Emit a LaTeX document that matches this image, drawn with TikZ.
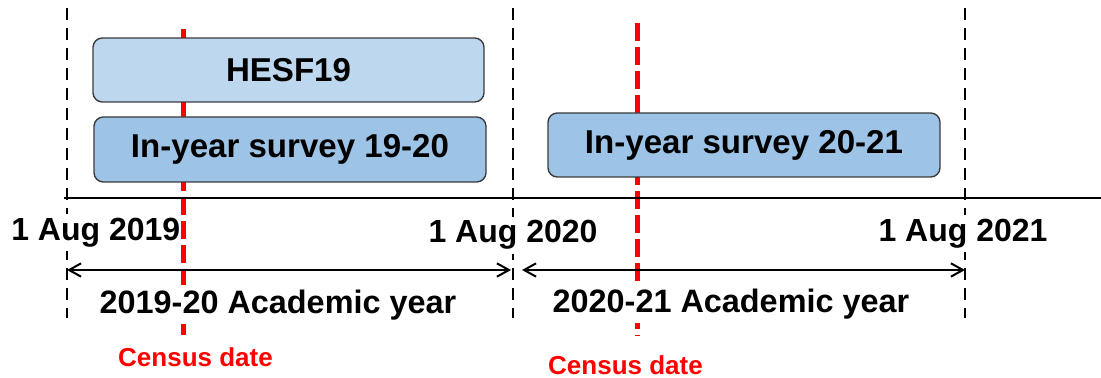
\documentclass[tikz,border=0pt]{standalone}
\usepackage{fontspec}
\setmainfont{Liberation Sans}
\usetikzlibrary{arrows.meta}
\definecolor{boxlight}{HTML}{BDD7EE}
\definecolor{boxmid}{HTML}{9DC3E6}
\definecolor{boxline}{HTML}{3A3A3A}
\begin{document}
\begin{tikzpicture}[x=0.75pt,y=-0.75pt,
  guide/.style={draw=black,line width=1.6pt,dash pattern=on 9pt off 6pt},
  censusline/.style={draw=red,line width=3.75pt,dash pattern=on 13.5pt off 4.5pt},
  surveybox/.style={draw=boxline,line width=1pt,rounded corners=7pt,inner sep=0pt,outer sep=0pt,
    minimum width=392*0.75pt,minimum height=64*0.75pt,font=\fontsize{24.8}{28}\selectfont\bfseries},
  datelabel/.style={fill=white,inner sep=3pt,font=\fontsize{24}{28}\selectfont\bfseries},
  yearlabel/.style={fill=white,inner xsep=0pt,inner ysep=3.5pt,font=\fontsize{24.3}{28}\selectfont\bfseries},
  censuslabel/.style={inner sep=0pt,text=red,font=\fontsize{19.5}{23}\selectfont\bfseries},
  span/.style={draw=black,line width=1.5pt,{Straight Barb[length=9pt,width=10pt,line width=1.5pt]}-{Straight Barb[length=9pt,width=10pt,line width=1.5pt]}},
  axis/.style={draw=black,line width=1.6pt}]
\useasboundingbox (0,0) rectangle (1101,378);
% guide coordinates
\coordinate (g1t) at (67,8);   \coordinate (g1b) at (67,318);
\coordinate (g2t) at (513,8);  \coordinate (g2b) at (513,318);
\coordinate (g3t) at (965,8);  \coordinate (g3b) at (965,318);
\draw[guide] (g1t) -- (g1b);
\draw[guide] (g2t) -- (g2b);
\draw[guide] (g3t) -- (g3b);
% date labels
\node[datelabel,anchor=base west] (d19) at (7,240) {1 Aug 2019};
\node[datelabel,anchor=base] (d20) at (513,243) {1 Aug 2020};
\node[datelabel,anchor=base] (d21) at (963,241) {1 Aug 2021};
% census lines
\coordinate (c1t) at (183,29);  \coordinate (c1b) at (183,338);
\coordinate (c2t) at (637,23);  \coordinate (c2b) at (637,336);
\draw[censusline] (c1t) -- (c1b);
\draw[censusline] (c2t) -- (c2b);
% boxes
\node[surveybox,fill=boxlight,minimum width=391*0.75pt] (hesf) at (288.5,70) {HESF19};
\node[surveybox,fill=boxmid,minimum height=65*0.75pt] (s1920) at (290,149.5) {In-year survey 19-20};
\node[surveybox,fill=boxmid] (s2021) at (744,145) {In-year survey 20-21};
% timeline
\coordinate (ax0) at (64,198); \coordinate (ax1) at (1101,198);
\draw[axis] (ax0) -- (ax1);
% spans
\coordinate (a1s) at (67,270); \coordinate (a1e) at (511,270);
\coordinate (a2s) at (522,270); \coordinate (a2e) at (965,270);
\draw[span] (a1s) -- (a1e);
\draw[span] (a2s) -- (a2e);
\node[yearlabel,anchor=base] (y1) at (278,313) {2019-20 Academic year};
\node[yearlabel,anchor=base] (y2) at (731,312) {2020-21 Academic year};
\node[censuslabel,anchor=base] (cl1) at (195.5,366) {Census date};
\node[censuslabel,anchor=base] (cl2) at (625.5,374) {Census date};
\end{tikzpicture}
\end{document}
